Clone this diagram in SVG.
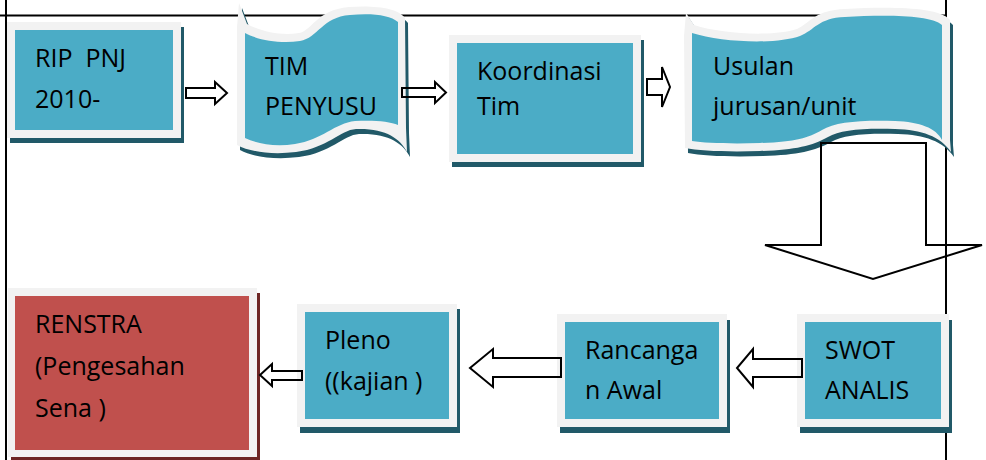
<svg xmlns="http://www.w3.org/2000/svg" width="986" height="460" viewBox="0 0 986 460">
  <style>
    .frame { stroke: #000; stroke-width: 2; fill: none; }
    .shadow { fill: #215968; }
    .shadow-red { fill: #6d2624; }
    .rim { fill: #f2f2f2; }
    .body { fill: #4bacc6; }
    .body-red { fill: #c0504d; }
    .label { font-family: "Open Sans", "Noto Sans", "Liberation Sans", sans-serif; font-size: 25px; fill: #000; white-space: pre; }
    .arrow { fill: none; stroke: #000; stroke-width: 2; stroke-linejoin: miter; }
  </style>
  <defs>
    <path id="tape-tim-outer" d="M237,27 L239,3 L247,24 C262,32 282,36 299,33 C312,31 316,10 349,7 C375,5 398,8 405,18 L406,128 L407,152 C400,138 385,128 356,129 C340,130 328,148 296,152 C272,155 250,152 237,145 Z"/>
    <path id="tape-usulan-outer" d="M684,36 L686,13 L694,25 C722,34 772,37 797,29 C810,23 815,10 845,9 C885,7 938,6 950,20 L950,140 L951,152 C940,136 922,130 895,129 C862,128 840,130 828,137 C812,146 795,150 760,151 C728,152 700,151 685,148 Z"/>
  </defs>

  <!-- page frame lines -->
  <g id="frame">
    <line class="frame" x1="0" y1="15.5" x2="946" y2="15.5"/>
    <line class="frame" x1="6" y1="0" x2="6" y2="460"/>
    <line class="frame" x1="946" y1="0" x2="946" y2="460"/>
  </g>

  <g id="node-rip">
    <rect class="shadow" x="10" y="27" width="174" height="116"/>
    <rect class="rim" x="7" y="22" width="174" height="116"/>
    <rect class="body" x="15" y="30" width="158" height="100"/>
    <text class="label" x="35" y="67">RIP  PNJ</text>
    <text class="label" x="35" y="108">2010-</text>
  </g>

  <g id="node-tim">
    <use href="#tape-tim-outer" class="shadow" transform="translate(3,5)"/>
    <use href="#tape-tim-outer" class="rim"/>
    <path class="body" d="M245,33 C258,40 280,44 300,41 C318,38 322,17 350,15 C372,13 390,15 398,22 L398,125 C390,121 372,120 355,121 C335,123 322,140 295,144 C275,147 258,144 245,138 Z"/>
    <text class="label" x="265" y="75">TIM</text>
    <text class="label" x="265" y="115">PENYUSU</text>
  </g>

  <g id="node-koordinasi">
    <rect class="shadow" x="452" y="40" width="192" height="127"/>
    <rect class="rim" x="449" y="35" width="192" height="127"/>
    <rect class="body" x="457" y="43" width="176" height="111"/>
    <text class="label" x="477" y="80">Koordinasi</text>
    <text class="label" x="477" y="115">Tim</text>
  </g>

  <g id="node-usulan">
    <use href="#tape-usulan-outer" class="shadow" transform="translate(3,5)"/>
    <use href="#tape-usulan-outer" class="rim"/>
    <path class="body" d="M692,33 C720,42 775,45 800,36 C815,30 818,18 845,17 C880,15 930,14 942,25 L942,140 C936,128 920,122 895,121 C860,120 835,122 822,130 C808,138 795,142 760,143 C730,144 705,143 692,141 Z"/>
    <text class="label" x="713" y="75">Usulan</text>
    <text class="label" x="713" y="115">jurusan/unit</text>
  </g>

  <g id="node-renstra">
    <rect class="shadow-red" x="11" y="293" width="249" height="169"/>
    <rect class="rim" x="8" y="288" width="249" height="169"/>
    <rect class="body-red" x="15" y="296" width="234" height="154"/>
    <text class="label" x="35" y="333">RENSTRA</text>
    <text class="label" x="35" y="375">(Pengesahan</text>
    <text class="label" x="35" y="417">Sena )</text>
  </g>

  <g id="node-pleno">
    <rect class="shadow" x="300" y="309" width="160" height="124"/>
    <rect class="rim" x="297" y="304" width="160" height="123"/>
    <rect class="body" x="305" y="312" width="144" height="107"/>
    <text class="label" x="325" y="349">Pleno</text>
    <text class="label" x="325" y="390">((kajian )</text>
  </g>

  <g id="node-rancangan">
    <rect class="shadow" x="560" y="320" width="170" height="113"/>
    <rect class="rim" x="557" y="314" width="170" height="113"/>
    <rect class="body" x="565" y="322" width="154" height="97"/>
    <text class="label" x="585" y="359">Rancanga</text>
    <text class="label" x="585" y="399">n Awal</text>
  </g>

  <g id="node-swot">
    <rect class="shadow" x="800" y="320" width="152" height="113"/>
    <rect class="rim" x="797" y="314" width="152" height="113"/>
    <rect class="body" x="805" y="322" width="136" height="97"/>
    <text class="label" x="825" y="359">SWOT</text>
    <text class="label" x="825" y="399">ANALIS</text>
  </g>

  <!-- block arrows between steps -->
  <g id="connectors">
    <polygon class="arrow" points="186,88 215,88 215,82 227,93 215,104 215,98 186,98"/>
    <polygon class="arrow" points="402,88 435,88 435,82 446,92.5 435,103 435,97 402,97"/>
    <polygon class="arrow" points="647,79 662,79 662,67 670,87 662,107 662,95 647,95"/>
    <polygon class="arrow" points="821,143 926,143 926,245 982,245 873,279 765,245 821,245"/>
    <polygon class="arrow" points="802,359 753,359 753,349 737,368 753,387 753,377 802,377"/>
    <polygon class="arrow" points="561,358 493,358 493,349 470,368 493,387 493,377 561,377"/>
    <polygon class="arrow" points="302,371 272,371 272,364 260,375 272,386 272,380 302,380"/>
  </g>
</svg>
